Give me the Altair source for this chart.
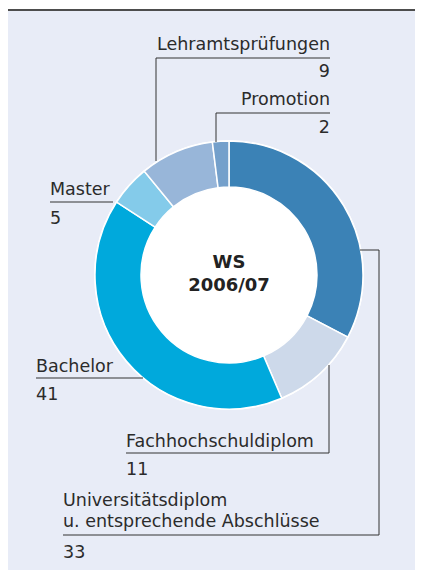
import altair as alt
import pandas as pd
import math

# ---- data ----
categories = ["Universitätsdiplom u. entsprechende Abschlüsse", "Fachhochschuldiplom",
              "Bachelor", "Master", "Lehramtsprüfungen", "Promotion"]
values = [33, 11, 41, 5, 9, 2]
colors = ["#3b82b6", "#cdd9ea", "#00a9dc", "#84cbea", "#98b6d9", "#74a0cb"]
center_lines = ["WS", "2006/07"]

# label text lines per category (same order as categories)
label_lines = [["Universitätsdiplom", "u. entsprechende Abschlüsse"], ["Fachhochschuldiplom"],
               ["Bachelor"], ["Master"], ["Lehramtsprüfungen"], ["Promotion"]]

# ---- layout (page pixel coordinates) ----
W, H = 407, 562
CX, CY, R_OUT, R_IN = 229, 275, 134, 88
# per category: anchor x, align, first label baseline, value baseline
label_pos = [
    (63, "left", 506, 558),
    (126, "left", 447, 475),
    (36, "left", 372, 400),
    (50, "left", 195, 224),
    (330, "right", 50, 77),
    (330, "right", 105, 133),
]
line_gap = 21
leaders = [
    (63, 535, 379, 535), (379, 250, 379, 535), (360, 250, 379, 250),
    (126, 453, 329, 453), (329, 365, 329, 453),
    (36, 378, 143, 378),
    (50, 202, 113, 202),
    (156, 58, 330, 58), (156, 58, 156, 161),
    (216, 113, 330, 113), (216, 113, 216, 142),
]

xs = alt.Scale(domain=[8, 8 + W], range=[0, W], nice=False, zero=False)
ys = alt.Scale(domain=[8, 8 + H], range=[0, H], nice=False, zero=False)
FONT = "DejaVu Sans"
TXT = "#2b2b2b"

donut_df = pd.DataFrame({"cat": categories, "value": values, "idx": list(range(len(values)))})

rows = []
for (lines, v, (x, al, y0, yv)) in zip(label_lines, values, label_pos):
    for i, t in enumerate(lines):
        rows.append({"t": t, "x": x, "y": y0 + i * line_gap, "align": al})
    rows.append({"t": str(v), "x": x, "y": yv, "align": al})
lab_df = pd.DataFrame(rows)

lead_df = pd.DataFrame(leaders, columns=["x", "y", "x2", "y2"])
center_df = pd.DataFrame({"t": center_lines, "x": [CX, CX], "y": [268, 291]})

bg = alt.Chart(pd.DataFrame({"a": [0]})).mark_rect(color="#e8ecf7").encode(
    x=alt.value(0), x2=alt.value(W), y=alt.value(2), y2=alt.value(H))
top = alt.Chart(pd.DataFrame({"a": [0]})).mark_rule(color="#4d4d4d", strokeWidth=2).encode(
    x=alt.value(0), x2=alt.value(W), y=alt.value(2))

disk = alt.Chart(pd.DataFrame({"a": [0]})).mark_arc(
    theta=0, theta2=2 * math.pi, radius=R_OUT + 1, color="white").encode(
    x=alt.value(CX - 8), y=alt.value(CY - 8))

donut = alt.Chart(donut_df).mark_arc(
    radius=R_OUT, radius2=R_IN, stroke="white", strokeWidth=1.5).encode(
    theta=alt.Theta("value:Q", stack=True),
    order=alt.Order("idx:Q"),
    color=alt.Color("cat:N", scale=alt.Scale(domain=categories, range=colors), legend=None),
    x=alt.value(CX - 8), y=alt.value(CY - 8),
)

rules = alt.Chart(lead_df).mark_rule(color="#333333", strokeWidth=1).encode(
    x=alt.X("x:Q", scale=xs, axis=None), y=alt.Y("y:Q", scale=ys, axis=None),
    x2="x2:Q", y2="y2:Q")

def text_layer(al):
    return alt.Chart(lab_df[lab_df["align"] == al]).mark_text(
        align=al, baseline="alphabetic", font=FONT, fontSize=17.5, color=TXT).encode(
        x=alt.X("x:Q", scale=xs, axis=None), y=alt.Y("y:Q", scale=ys, axis=None), text="t:N")

center = alt.Chart(center_df).mark_text(
    align="center", baseline="alphabetic", font=FONT, fontSize=18, fontWeight="bold", color="#222222").encode(
    x=alt.X("x:Q", scale=xs, axis=None), y=alt.Y("y:Q", scale=ys, axis=None), text="t:N")

chart = alt.layer(bg, top, disk, donut, rules, text_layer("left"), text_layer("right"), center).properties(
    width=W, height=H, padding=0, autosize=alt.AutoSizeParams(type="none"), background="white"
).configure_view(stroke=None)

chart.save("out.html", embed_options={"renderer": "svg", "actions": False})
